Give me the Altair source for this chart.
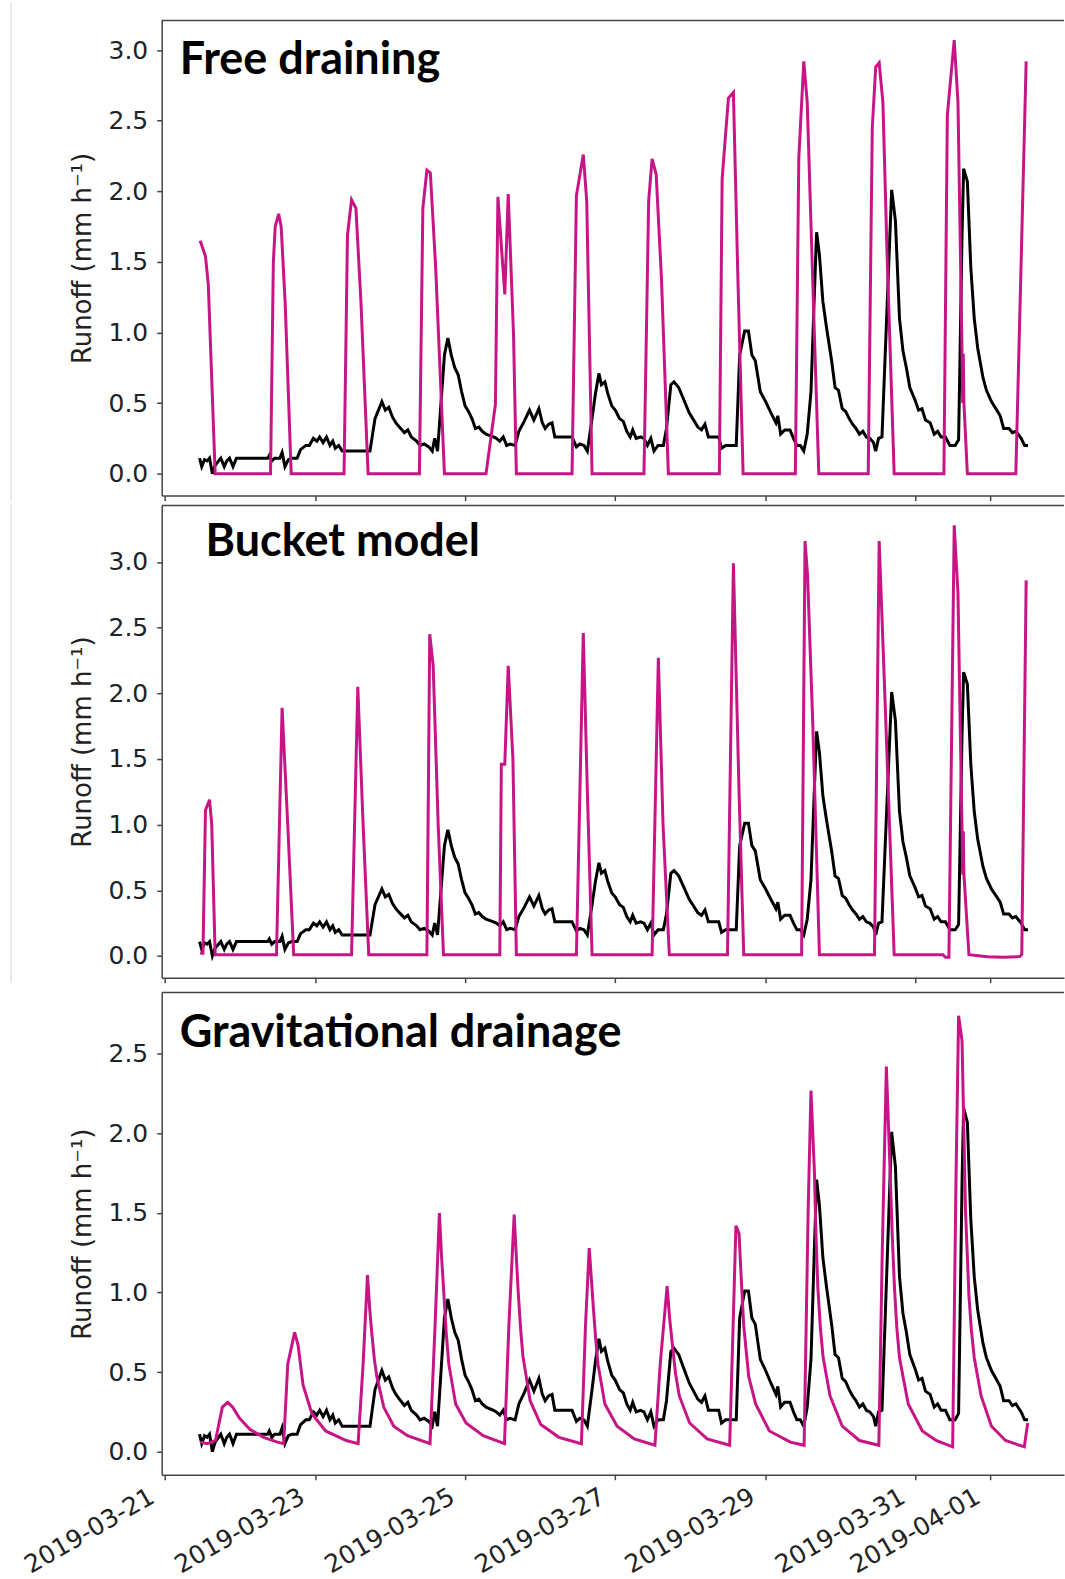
import altair as alt
import pandas as pd

# ---------------- data (hours since 2019-03-21 00:00, runoff mm/h) ----------------
TICK_HOURS = [0, 48, 96, 144, 192, 240, 264]
TICK_LABELS = ["2019-03-21", "2019-03-23", "2019-03-25", "2019-03-27",
               "2019-03-29", "2019-03-31", "2019-04-01"]
PANEL_TITLES = ["Free draining", "Bucket model", "Gravitational drainage"]
Y_TITLE = "Runoff (mm h\u207b\u00b9)"

OBS = [(11.1, 0.11), (11.8, 0.05), (12.7, 0.10), (13.5, 0.09), (14.3, 0.11), (15.2, 0.00),
       (16.1, 0.06), (17.9, 0.11), (19.0, 0.05), (19.8, 0.09), (20.7, 0.11), (21.8, 0.05),
       (22.9, 0.11), (32.9, 0.11), (33.4, 0.13), (34.2, 0.09), (35.1, 0.11), (36.8, 0.11),
       (37.5, 0.15), (38.4, 0.05), (39.5, 0.10), (40.6, 0.11), (42.3, 0.11), (43.4, 0.17),
       (45.1, 0.20), (46.2, 0.20), (47.5, 0.25), (48.6, 0.23), (49.5, 0.26), (50.6, 0.22),
       (51.7, 0.26), (52.8, 0.20), (53.7, 0.23), (54.5, 0.18), (55.6, 0.20), (56.7, 0.16),
       (65.6, 0.16), (67.2, 0.39), (69.4, 0.51), (70.5, 0.45), (71.6, 0.47), (72.8, 0.40),
       (73.9, 0.36), (75.0, 0.33), (76.6, 0.29), (77.7, 0.31), (78.8, 0.26), (80.5, 0.23),
       (81.6, 0.20), (82.9, 0.21), (84.4, 0.19), (85.5, 0.16), (86.3, 0.25), (87.2, 0.16),
       (89.4, 0.84), (90.5, 0.96), (91.6, 0.84), (92.7, 0.75), (93.8, 0.70), (94.9, 0.58),
       (96.0, 0.48), (97.1, 0.44), (98.2, 0.39), (99.3, 0.32), (100.4, 0.33), (101.5, 0.30),
       (102.7, 0.28), (105.1, 0.26), (106.0, 0.25), (107.1, 0.23), (108.2, 0.26), (109.3, 0.20),
       (110.4, 0.21), (112.0, 0.20), (113.2, 0.30), (114.9, 0.37), (116.6, 0.45), (118.0, 0.38),
       (119.6, 0.46), (120.7, 0.36), (121.6, 0.32), (122.7, 0.35), (123.8, 0.36), (124.7, 0.26),
       (130.2, 0.26), (131.6, 0.19), (132.7, 0.21), (134.0, 0.20), (135.1, 0.16), (136.6, 0.39),
       (137.7, 0.57), (138.8, 0.71), (139.6, 0.63), (140.7, 0.65), (141.6, 0.57), (142.9, 0.48),
       (144.0, 0.45), (145.4, 0.39), (146.6, 0.37), (147.7, 0.30), (148.8, 0.26), (149.6, 0.31),
       (150.7, 0.25), (152.1, 0.26), (153.2, 0.25), (154.3, 0.20), (155.4, 0.25), (156.4, 0.16),
       (157.7, 0.20), (159.4, 0.20), (160.4, 0.32), (161.8, 0.63), (162.8, 0.65), (164.3, 0.61),
       (166.0, 0.52), (167.7, 0.43), (168.8, 0.39), (170.4, 0.33), (171.6, 0.31), (172.7, 0.35),
       (173.8, 0.26), (177.1, 0.26), (178.0, 0.18), (179.3, 0.20), (182.7, 0.20), (183.8, 0.84),
       (185.4, 1.01), (186.6, 1.01), (187.7, 0.84), (188.8, 0.80), (190.4, 0.58), (192.1, 0.51),
       (193.8, 0.43), (195.4, 0.36), (196.0, 0.41), (196.9, 0.28), (198.2, 0.31), (199.9, 0.31),
       (201.0, 0.25), (202.1, 0.20), (203.2, 0.20), (204.3, 0.16), (205.4, 0.28), (206.6, 0.58),
       (207.6, 1.22), (208.4, 1.71), (209.3, 1.55), (210.4, 1.22), (211.6, 1.03), (213.2, 0.80),
       (214.3, 0.61), (215.4, 0.59), (216.6, 0.46), (217.7, 0.44), (218.8, 0.39), (219.9, 0.35),
       (221.0, 0.32), (222.1, 0.28), (223.2, 0.30), (224.3, 0.26), (225.4, 0.25), (226.6, 0.22),
       (227.3, 0.16), (228.2, 0.25), (229.3, 0.26), (231.0, 1.22), (232.4, 2.01), (233.6, 1.79),
       (234.9, 1.10), (236.0, 0.87), (237.1, 0.75), (238.2, 0.61), (239.9, 0.52), (241.0, 0.45),
       (242.1, 0.46), (243.2, 0.38), (244.7, 0.36), (246.0, 0.28), (247.1, 0.30), (248.2, 0.26),
       (249.6, 0.26), (251.0, 0.20), (252.7, 0.20), (253.8, 0.24), (254.9, 1.69), (255.4, 2.16),
       (256.6, 2.07), (257.7, 1.46), (258.8, 1.10), (259.9, 0.89), (261.6, 0.68), (262.7, 0.59),
       (264.3, 0.51), (266.0, 0.45), (267.1, 0.41), (268.2, 0.32), (269.9, 0.32), (271.0, 0.29),
       (272.1, 0.30), (273.8, 0.25), (274.9, 0.20), (276.0, 0.20)]

FREE_DRAINING = [(11.3, 1.65), (13.0, 1.54), (13.9, 1.34), (16.1, 0.0),
                 (33.8, 0.0), (34.7, 1.50), (35.3, 1.75), (36.4, 1.84), (37.2, 1.75), (38.5, 1.20), (40.4, 0.0),
                 (57.3, 0.0), (58.4, 1.69), (59.7, 1.94), (61.1, 1.88), (62.7, 1.22), (65.0, 0.0),
                 (81.4, 0.0), (82.5, 1.88), (83.8, 2.15), (84.9, 2.13), (86.6, 1.46), (89.4, 0.0),
                 (102.7, 0.0), (105.7, 0.49), (106.5, 1.96), (108.7, 1.27), (109.8, 1.98), (111.5, 0.98), (112.4, 0.0),
                 (130.2, 0.0), (131.6, 1.97), (133.8, 2.26), (134.9, 1.93), (136.6, 0.0),
                 (153.2, 0.0), (154.7, 1.93), (155.8, 2.23), (157.1, 2.12), (158.8, 1.38), (161.0, 0.0),
                 (177.3, 0.0), (178.2, 2.09), (180.2, 2.66), (181.8, 2.70), (183.2, 1.41), (184.9, 0.0),
                 (201.6, 0.0), (202.7, 2.23), (204.3, 2.92), (205.4, 2.63), (207.7, 0.98), (209.1, 0.0),
                 (224.9, 0.0), (226.2, 2.45), (227.3, 2.88), (228.4, 2.91), (229.6, 2.63), (231.0, 1.50), (233.2, 0.0),
                 (249.1, 0.0), (250.2, 2.54), (252.4, 3.07), (253.6, 2.63), (254.9, 0.85), (255.1, 0.50),
                 (255.3, 0.85), (255.5, 0.50), (256.6, 0.0),
                 (272.1, 0.0), (275.4, 2.92)]

BUCKET = [(11.3, 0.02), (12.2, 0.02), (13.0, 1.11), (14.3, 1.19), (15.0, 1.0), (16.1, 0.01),
          (35.7, 0.01), (37.5, 1.89), (39.3, 1.0), (41.2, 0.01),
          (59.7, 0.01), (61.7, 2.05), (63.4, 1.0), (65.2, 0.01),
          (83.8, 0.01), (84.7, 2.45), (85.8, 2.21), (87.4, 1.0), (89.1, 0.01),
          (107.1, 0.01), (107.6, 1.46), (108.7, 1.46), (109.8, 2.21), (111.3, 1.5), (112.4, 0.01),
          (131.6, 0.01), (133.8, 2.46), (135.1, 1.25), (136.6, 0.01),
          (155.8, 0.01), (157.8, 2.27), (159.3, 1.0), (161.3, 0.01),
          (179.9, 0.01), (181.8, 2.99), (183.6, 1.25), (185.1, 0.01),
          (203.6, 0.01), (204.7, 3.16), (205.5, 2.90), (207.2, 1.75), (209.3, 0.01),
          (226.9, 0.01), (228.4, 3.16), (230.2, 2.0), (233.2, 0.01),
          (248.8, 0.01), (249.6, -0.01), (250.7, -0.01), (252.4, 3.28), (253.6, 2.76), (254.9, 0.95),
          (255.1, 0.62), (255.3, 0.95), (255.5, 0.62), (257.1, 0.01),
          (263.0, -0.005), (268.0, -0.01), (273.3, -0.005), (274.0, 0.01), (275.4, 2.86)]

GRAVITATIONAL = [(11.3, 0.06), (13.5, 0.05), (16.2, 0.07), (18.4, 0.28), (20.1, 0.31), (21.7, 0.28),
                 (23.9, 0.21), (27.2, 0.14), (31.6, 0.09), (36.0, 0.06), (38.0, 0.05),
                 (39.3, 0.55), (41.5, 0.75), (42.6, 0.67), (44.2, 0.42), (47.0, 0.24), (51.4, 0.13),
                 (58.0, 0.07), (61.8, 0.05),
                 (63.4, 0.55), (64.8, 1.11), (65.5, 0.90), (66.1, 0.76), (67.0, 0.58), (67.8, 0.47),
                 (70.0, 0.28), (73.2, 0.16), (77.6, 0.10), (84.8, 0.05),
                 (86.4, 0.79), (87.8, 1.50), (88.5, 1.22), (89.2, 1.00), (90.0, 0.74), (90.8, 0.55),
                 (93.0, 0.30), (96.3, 0.18), (101.8, 0.10), (108.6, 0.05),
                 (110.0, 0.79), (111.7, 1.49), (112.4, 1.22), (113.0, 1.00), (113.8, 0.76), (114.5, 0.60),
                 (116.8, 0.32), (120.2, 0.17), (126.0, 0.09), (133.2, 0.05),
                 (134.5, 0.79), (135.7, 1.28), (136.4, 1.08), (137.0, 0.91), (137.8, 0.70), (138.5, 0.55),
                 (140.7, 0.30), (144.6, 0.16), (150.1, 0.08), (156.7, 0.04),
                 (158.4, 0.55), (160.6, 1.04), (161.4, 0.84), (162.3, 0.67), (163.3, 0.49), (164.5, 0.35),
                 (167.8, 0.18), (173.4, 0.08), (180.6, 0.04),
                 (181.7, 0.79), (182.6, 1.42), (183.6, 1.37), (184.4, 1.05), (185.1, 0.79), (186.7, 0.47),
                 (188.9, 0.30), (193.3, 0.13), (200.0, 0.06), (204.4, 0.04),
                 (205.7, 1.52), (206.6, 2.27), (207.7, 1.76), (208.2, 1.36), (208.8, 1.03), (209.6, 0.78),
                 (210.5, 0.59), (212.7, 0.35), (216.6, 0.16), (222.1, 0.07), (228.3, 0.04),
                 (229.4, 1.27), (230.7, 2.42), (231.9, 1.76), (232.6, 1.35), (233.3, 1.03), (234.0, 0.79),
                 (234.9, 0.59), (237.7, 0.30), (242.2, 0.13), (246.6, 0.07), (251.9, 0.03),
                 (253.0, 1.76), (253.8, 2.74), (254.9, 2.58), (256.0, 1.52), (257.1, 0.98), (257.9, 0.76),
                 (258.8, 0.59), (261.0, 0.35), (264.3, 0.16), (268.8, 0.07), (274.8, 0.03), (275.9, 0.18)]

MODELS = [FREE_DRAINING, BUCKET, GRAVITATIONAL]
Y_DOMAINS = [[-0.155, 3.21], [-0.165, 3.43], [-0.145, 2.885]]
Y_TICKS = [[0, 0.5, 1, 1.5, 2, 2.5, 3], [0, 0.5, 1, 1.5, 2, 2.5, 3], [0, 0.5, 1, 1.5, 2, 2.5]]
HEIGHTS = [476, 473, 483]
TITLE_POS = [(18, 54), (44, 51), (18, 54)]

X_DOMAIN = [-1.0, 287.5]
PLOT_W = 904

FRAME = "#444444"
TEXT = "#222222"
MAGENTA = "#C71585"

label_expr = ""
for h, lab in zip(TICK_HOURS, TICK_LABELS):
    label_expr += f"datum.value == {h} ? '{lab}' : "
label_expr += "''"


def panel(i):
    obs_df = pd.DataFrame(OBS, columns=["hour", "runoff"])
    mod_df = pd.DataFrame(MODELS[i], columns=["hour", "runoff"])
    last = i == 2
    xaxis = alt.Axis(values=TICK_HOURS, labels=last, labelExpr=label_expr,
                     labelAngle=330, labelAlign="right", labelBaseline="top",
                     labelOffset=-19, labelPadding=4, labelFontSize=25,
                     labelFont="DejaVu Sans", labelColor=TEXT,
                     tickSize=5, tickWidth=1.5, tickColor=FRAME,
                     domainColor=FRAME, domainWidth=1.5, grid=False, title=None,
                     labelOverlap=False, labelFlush=False, labelBound=False)
    yaxis = alt.Axis(values=Y_TICKS[i], format=".1f", labelFontSize=25,
                     labelFont="DejaVu Sans", labelColor=TEXT, labelPadding=9,
                     tickSize=5, tickWidth=1.5, tickColor=FRAME,
                     domainColor=FRAME, domainWidth=1.5, grid=False,
                     title=Y_TITLE, titleFont="DejaVu Sans", titleFontSize=26,
                     titleFontWeight="normal", titleColor=TEXT, titlePadding=13)
    xs = alt.Scale(domain=X_DOMAIN, nice=False, zero=False)
    ys = alt.Scale(domain=Y_DOMAINS[i], nice=False, zero=False)

    obs = alt.Chart(obs_df).mark_line(color="#000000", strokeWidth=3, clip=True).encode(
        x=alt.X("hour:Q", scale=xs, axis=xaxis),
        y=alt.Y("runoff:Q", scale=ys, axis=yaxis),
    )
    mod = alt.Chart(mod_df).mark_line(color=MAGENTA, strokeWidth=3, clip=True).encode(
        x=alt.X("hour:Q", scale=xs),
        y=alt.Y("runoff:Q", scale=ys),
    )
    top = alt.Chart(pd.DataFrame({"runoff": [Y_DOMAINS[i][1]]})).mark_rule(
        color=FRAME, strokeWidth=1.5).encode(y=alt.Y("runoff:Q", scale=ys))
    tx, ty = TITLE_POS[i]
    title = alt.Chart(pd.DataFrame({"t": [PANEL_TITLES[i]]})).mark_text(
        align="left", baseline="alphabetic", font="Lato", fontSize=45,
        fontWeight="bold", color="#000000").encode(
        x=alt.value(tx), y=alt.value(ty), text="t:N")
    layers = [obs, mod, top, title]
    if i == 0:
        edge = alt.Chart(pd.DataFrame({"a": [0]})).mark_rule(
            color="#d4d4d4", strokeWidth=1).encode(
            x=alt.value(-151), y=alt.value(-18), y2=alt.value(HEIGHTS[0] + 5))
        layers.append(edge)
    if i == 1:
        edge = alt.Chart(pd.DataFrame({"a": [0]})).mark_rule(
            color="#d4d4d4", strokeWidth=1).encode(
            x=alt.value(-151), y=alt.value(-2), y2=alt.value(HEIGHTS[1] + 5))
        layers.append(edge)
    if last:
        ext = alt.Chart(pd.DataFrame({"a": [0]})).mark_rule(opacity=0).encode(
            x=alt.value(0), y=alt.value(-8), y2=alt.value(0))
        layers.append(ext)
    return alt.layer(*layers).properties(width=PLOT_W, height=HEIGHTS[i])


chart = alt.vconcat(panel(0), panel(1), panel(2), spacing=1).properties(
    padding={"left": 10, "top": 0, "right": 0, "bottom": 0}
).configure_view(stroke=None)

chart.save("out.html", embed_options={"renderer": "svg", "actions": False})
